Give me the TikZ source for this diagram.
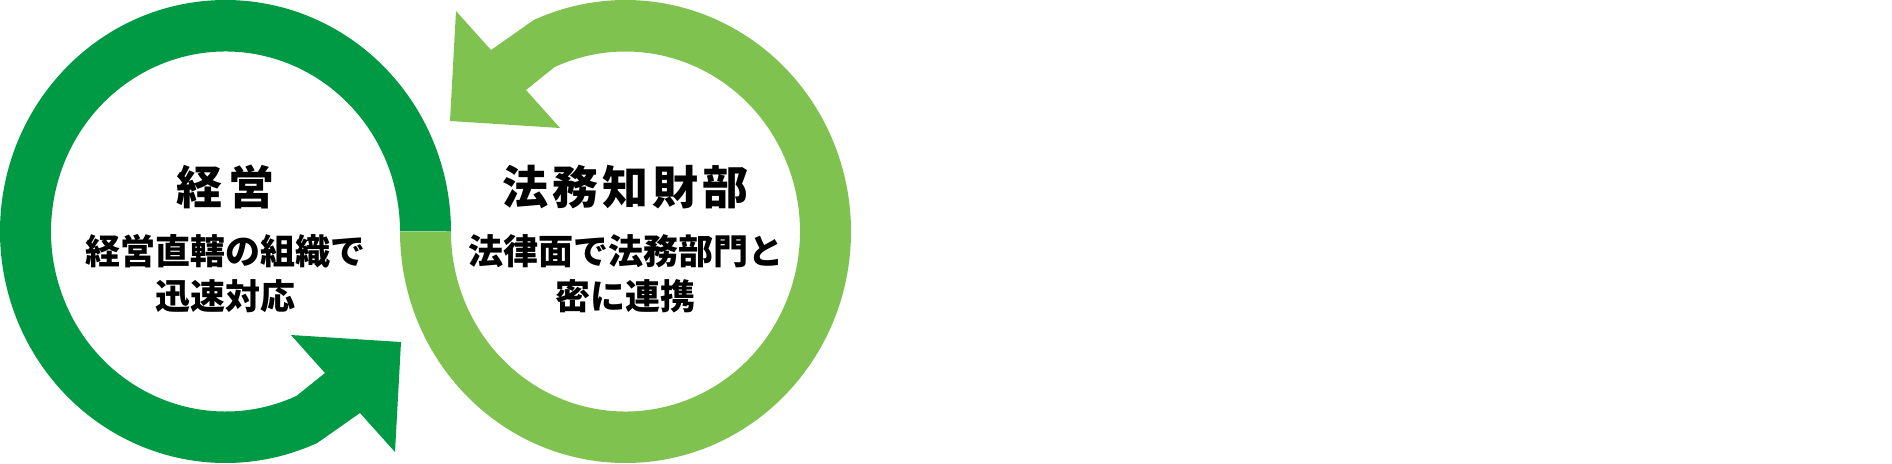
\documentclass[tikz,border=0pt]{standalone}
\usepackage{fontspec}
\newfontfamily\jp{Noto Sans CJK JP}
\definecolor{darkgreen}{RGB}{0,153,68}
\definecolor{lightgreen}{RGB}{128,194,80}
\tikzset{
  titletext/.style={anchor=base, inner sep=0pt, font=\jp\bfseries\fontsize{46}{50}\selectfont},
  subtext/.style={anchor=base, inner sep=0pt, font=\jp\bfseries\fontsize{35}{40}\selectfont},
}
\begin{document}
\begin{tikzpicture}[x=1pt, y=-1pt]
\useasboundingbox[fill=white] (0,0) rectangle (1892,463);
% dark green ring with arrowhead (left)
\fill[darkgreen] (451,231.5)
  arc[start angle=0, end angle=-294, x radius=225.5, y radius=231.5]
  -- (360,413) -- (395,452) -- (401,342) -- (291,335) -- (325,373)
  -- (296.5,395.9)
  arc[start angle=66, end angle=360, x radius=174.5, y radius=180]
  -- cycle;
% light green ring with arrowhead (right), point-symmetric copy
\begin{scope}[rotate around={180:(425.5,231.5)}]
\fill[lightgreen] (451,231.5)
  arc[start angle=0, end angle=-294, x radius=225.5, y radius=231.5]
  -- (360,413) -- (395,452) -- (401,342) -- (291,335) -- (325,373)
  -- (296.5,395.9)
  arc[start angle=66, end angle=360, x radius=174.5, y radius=180]
  -- cycle;
\end{scope}
% texts
\node[titletext] (lt) at (225.5,204.5) {経\kern6pt 営};
\node[subtext] (l1) at (225.5,264.5) {経営直轄の組織で};
\node[subtext] (l2) at (225.5,309.5) {迅速対応};
\node[titletext] (rt) at (625.5,204.5) {法\kern4pt 務\kern4pt 知\kern4pt 財\kern4pt 部};
\node[subtext] (r1) at (625.5,264.5) {法律面で法務部門と};
\node[subtext] (r2) at (625.5,309.5) {密に連携};
\end{tikzpicture}
\end{document}
